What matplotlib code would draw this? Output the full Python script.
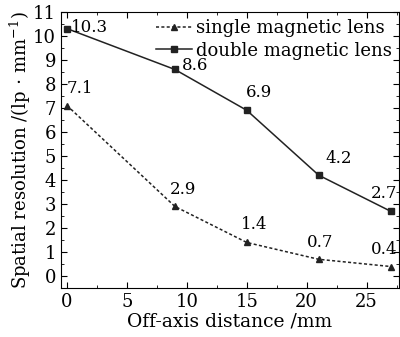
import matplotlib
matplotlib.use("Agg")
from matplotlib import pyplot as plt
from matplotlib.ticker import MultipleLocator

# data
distance = [0, 9, 15, 21, 27]
single_lens = [7.1, 2.9, 1.4, 0.7, 0.4]
double_lens = [10.3, 8.6, 6.9, 4.2, 2.7]

# label offsets (points) for each value label
single_offsets = [(0, 6, 'left'), (6, 6, 'center'), (5, 7, 'center'), (1, 6, 'center'), (-5, 6, 'center')]
double_offsets = [(3, 1, 'left'), (5, -3, 'left'), (9, 7, 'center'), (5, 6, 'left'), (-5, 7, 'center')]

plt.rcParams['font.family'] = ['DejaVu Serif']
plt.rcParams['mathtext.fontset'] = 'dejavuserif'

fig = plt.figure(figsize=(4.0, 3.37), dpi=100)
ax = fig.add_axes([0.1525, 0.145, 0.845, 0.82])

ax.plot(distance, single_lens, linestyle=(0, (2, 1.5)), color='#222222', lw=1.1,
        marker='^', markersize=5, label='single magnetic lens')
ax.plot(distance, double_lens, linestyle='-', color='#222222', lw=1.1,
        marker='s', markersize=4, label='double magnetic lens')

for (x, y), (dx, dy, ha) in zip(zip(distance, single_lens), single_offsets):
    ax.annotate('%.1f' % y, (x, y), xytext=(dx, dy), textcoords='offset points',
                ha=ha, va='bottom', fontsize=12)
for i, ((x, y), (dx, dy, ha)) in enumerate(zip(zip(distance, double_lens), double_offsets)):
    va = 'center' if i == 0 else 'bottom'
    ax.annotate('%.1f' % y, (x, y), xytext=(dx, dy), textcoords='offset points',
                ha=ha, va=va, fontsize=12)

ax.set_xlim(-0.5, 27.7)
ax.set_ylim(-0.5, 11)
ax.xaxis.set_major_locator(MultipleLocator(5))
ax.xaxis.set_minor_locator(MultipleLocator(2.5))
ax.yaxis.set_major_locator(MultipleLocator(1))
ax.yaxis.set_minor_locator(MultipleLocator(0.5))
ax.tick_params(which='both', direction='in', top=True, right=True, labelsize=13)
ax.tick_params(which='major', length=4)
ax.tick_params(which='minor', length=2)

ax.set_xlabel('Off-axis distance /mm', fontsize=13.5, labelpad=1)
ax.set_ylabel(r'Spatial resolution /(lp$\,\cdot\,$mm$^{-1}$)', fontsize=13, labelpad=0)

ax.legend(loc='upper right', frameon=False, fontsize=13, handlelength=2.0,
          handletextpad=0.2, borderaxespad=0.0, labelspacing=0.25,
          bbox_to_anchor=(1.0, 1.0))

fig.savefig('out.png', dpi=100)
